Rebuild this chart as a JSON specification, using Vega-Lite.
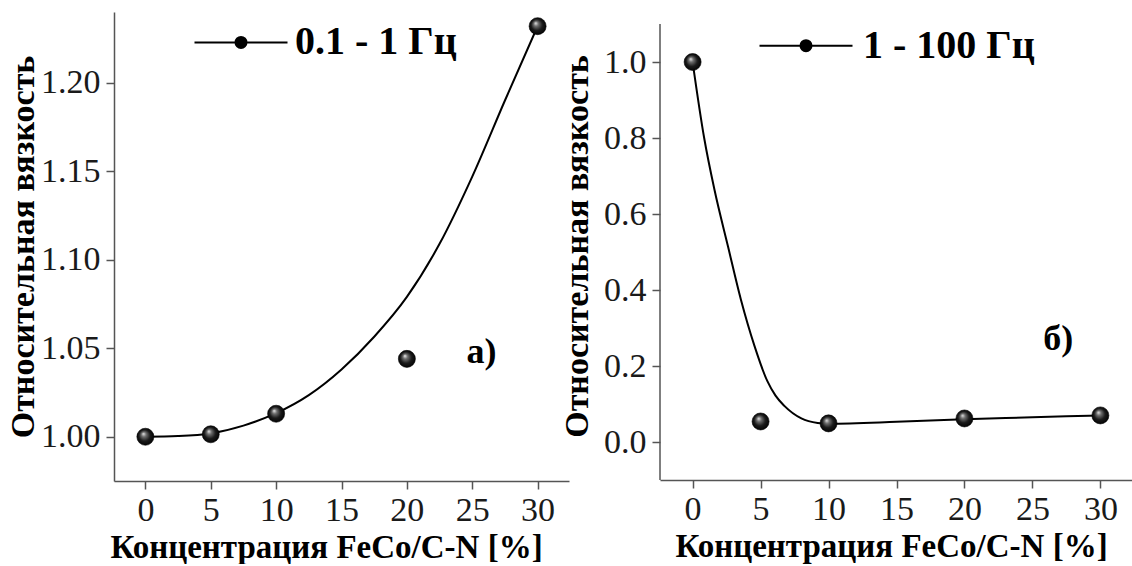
{
  "$schema": "https://vega.github.io/schema/vega-lite/v6.json",
  "background": "white",
  "padding": {"left": 6, "top": 12, "right": 0, "bottom": 0},
  "spacing": -9,
  "config": {
    "view": {"stroke": null},
    "font": "Liberation Serif",
    "axis": {
      "domainColor": "#555", "domainWidth": 1.5, "tickColor": "#555", "tickWidth": 1.5, "tickSize": 8,
      "labelFont": "Liberation Serif", "labelFontSize": 34, "labelColor": "#1a1a1a", "labelPadding": 6,
      "titleFont": "Liberation Serif", "titleFontSize": 34, "titleFontWeight": "bold", "titleColor": "#000",
      "grid": false, "labelFlush": false, "labelOverlap": false, "titlePadding": 6
    },
    "axisX": {"titleFontSize": 33, "labelPadding": 4, "titlePadding": 4}
  },
  "datasets": {
    "curveA": [
      {"c": 0, "v": 1.0}, {"c": 2.5, "v": 1.0004}, {"c": 5, "v": 1.0019}, {"c": 7.5, "v": 1.0063},
      {"c": 10, "v": 1.0133}, {"c": 12.5, "v": 1.0235}, {"c": 15, "v": 1.038}, {"c": 17.5, "v": 1.0565},
      {"c": 20, "v": 1.079}, {"c": 22.5, "v": 1.109}, {"c": 25, "v": 1.147}, {"c": 27.5, "v": 1.19},
      {"c": 30, "v": 1.232}
    ],
    "pointsA": [
      {"c": 0, "v": 1.0}, {"c": 5, "v": 1.0014}, {"c": 10, "v": 1.013}, {"c": 20, "v": 1.044}, {"c": 30, "v": 1.232}
    ],
    "curveB": [
      {"c": 0, "v": 1.0}, {"c": 0.85, "v": 0.8}, {"c": 1.6, "v": 0.665}, {"c": 2.6, "v": 0.515},
      {"c": 3.55, "v": 0.375}, {"c": 4.55, "v": 0.253}, {"c": 5.5, "v": 0.16}, {"c": 6.1, "v": 0.122},
      {"c": 6.75, "v": 0.095}, {"c": 8, "v": 0.062}, {"c": 9.2, "v": 0.05}, {"c": 10, "v": 0.048},
      {"c": 15, "v": 0.053}, {"c": 20, "v": 0.06}, {"c": 25, "v": 0.065}, {"c": 30, "v": 0.07}
    ],
    "pointsB": [
      {"c": 0, "v": 1.0}, {"c": 5, "v": 0.054}, {"c": 10, "v": 0.049}, {"c": 20, "v": 0.062}, {"c": 30, "v": 0.07}
    ]
  },
  "hconcat": [
    {
      "width": 455,
      "height": 469,
      "layer": [
        {
          "data": {"name": "curveA"},
          "mark": {"type": "line", "interpolate": "monotone", "strokeWidth": 2},
          "encoding": {
            "x": {"field": "c", "type": "quantitative", "title": "Концентрация FeCo/C-N [%]",
              "scale": {"domain": [-2.4, 32.4], "nice": false, "zero": false},
              "axis": {"values": [0, 5, 10, 15, 20, 25, 30], "titleX": 212, "titleAlign": "center"}},
            "y": {"field": "v", "type": "quantitative", "title": "Относительная вязкость",
              "scale": {"domain": [0.975, 1.24], "nice": false, "zero": false},
              "axis": {"values": [1.0, 1.05, 1.1, 1.15, 1.2], "format": ".2f", "titlePadding": 0}},
            "color": {"datum": "0.1 - 1 Гц", "type": "nominal", "scale": {"range": ["#000"]},
              "legend": {"orient": "none", "legendX": 107, "legendY": 10.4, "title": null, "padding": 0,
                "symbolType": "M-4.65,0L-0.55,0M0.55,0L4.65,0M-0.55,0A0.55,0.55,0,1,1,0.55,0A0.55,0.55,0,1,1,-0.55,0Z",
                "symbolSize": 400, "symbolFillColor": "#000", "symbolStrokeColor": "#000", "symbolStrokeWidth": 2,
                "labelFont": "Liberation Serif", "labelFontSize": 40, "labelFontWeight": "bold", "labelColor": "#000",
                "labelOffset": 34, "labelLimit": 0}}
          }
        },
        {
          "data": {"name": "pointsA"},
          "mark": {"type": "point", "shape": "circle", "filled": true, "size": 290, "opacity": 1,
            "fill": {"gradient": "radial", "x1": 0.38, "y1": 0.32, "r1": 0, "x2": 0.5, "y2": 0.5, "r2": 0.55,
              "stops": [{"offset": 0, "color": "#eeeeee"}, {"offset": 0.25, "color": "#707070"}, {"offset": 0.6, "color": "#1a1a1a"}, {"offset": 1, "color": "#000000"}]},
            "stroke": "#000", "strokeWidth": 0.6},
          "encoding": {
            "x": {"field": "c", "type": "quantitative"},
            "y": {"field": "v", "type": "quantitative"}
          }
        },
        {
          "data": {"values": [{}]},
          "mark": {"type": "text", "text": "а)", "font": "Liberation Serif", "fontSize": 36, "fontWeight": "bold", "color": "#000"},
          "encoding": {"x": {"datum": 25.7}, "y": {"datum": 1.048}}
        }
      ]
    },
    {
      "width": 473,
      "height": 468,
      "layer": [
        {
          "data": {"values": [{}]},
          "mark": {"type": "rule", "color": "#555", "strokeWidth": 1.5},
          "encoding": {"x": {"datum": -2.4}, "y": {"datum": -0.1}, "y2": {"datum": 1.1}}
        },
        {
          "data": {"name": "curveB"},
          "mark": {"type": "line", "interpolate": "monotone", "strokeWidth": 2},
          "encoding": {
            "x": {"field": "c", "type": "quantitative", "title": "Концентрация FeCo/C-N [%]",
              "scale": {"domain": [-2.4, 32.4], "nice": false, "zero": false},
              "axis": {"values": [0, 5, 10, 15, 20, 25, 30], "titleX": 231, "titleAlign": "center"}},
            "y": {"field": "v", "type": "quantitative", "title": "Относительная вязкость",
              "scale": {"domain": [-0.1, 1.1316], "nice": false, "zero": false},
              "axis": {"values": [0, 0.2, 0.4, 0.6, 0.8, 1.0], "format": ".1f", "domain": false, "titlePadding": 9}},
            "color": {"datum": "1 - 100 Гц", "type": "nominal", "scale": {"range": ["#000"]},
              "legend": {"orient": "none", "legendX": 126, "legendY": 13.7, "title": null, "padding": 0,
                "symbolType": "M-4.65,0L-0.55,0M0.55,0L4.65,0M-0.55,0A0.55,0.55,0,1,1,0.55,0A0.55,0.55,0,1,1,-0.55,0Z",
                "symbolSize": 400, "symbolFillColor": "#000", "symbolStrokeColor": "#000", "symbolStrokeWidth": 2,
                "labelFont": "Liberation Serif", "labelFontSize": 40, "labelFontWeight": "bold", "labelColor": "#000",
                "labelOffset": 37, "labelLimit": 0}}
          }
        },
        {
          "data": {"name": "pointsB"},
          "mark": {"type": "point", "shape": "circle", "filled": true, "size": 290, "opacity": 1,
            "fill": {"gradient": "radial", "x1": 0.38, "y1": 0.32, "r1": 0, "x2": 0.5, "y2": 0.5, "r2": 0.55,
              "stops": [{"offset": 0, "color": "#eeeeee"}, {"offset": 0.25, "color": "#707070"}, {"offset": 0.6, "color": "#1a1a1a"}, {"offset": 1, "color": "#000000"}]},
            "stroke": "#000", "strokeWidth": 0.6},
          "encoding": {
            "x": {"field": "c", "type": "quantitative"},
            "y": {"field": "v", "type": "quantitative"}
          }
        },
        {
          "data": {"values": [{}]},
          "mark": {"type": "text", "text": "б)", "font": "Liberation Serif", "fontSize": 36, "fontWeight": "bold", "color": "#000"},
          "encoding": {"x": {"datum": 26.9}, "y": {"datum": 0.27}}
        }
      ]
    }
  ],
  "resolve": {"scale": {"color": "independent", "y": "independent", "x": "independent"}, "legend": {"color": "independent"}}
}
